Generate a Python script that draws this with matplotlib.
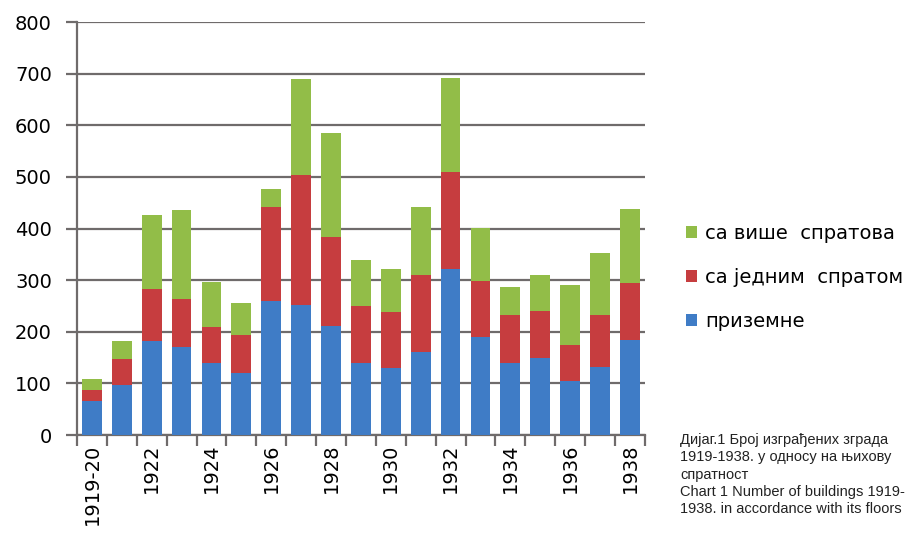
import matplotlib.pyplot as plt
import numpy as np

# years on the x axis
years = ['1919-20', '1921', '1922', '1923', '1924', '1925', '1926', '1927', '1928',
         '1929', '1930', '1931', '1932', '1933', '1934', '1935', '1936', '1937', '1938']
# ground floor only
prizemne = [66, 97, 182, 170, 139, 121, 260, 252, 211,
            139, 129, 160, 322, 190, 139, 149, 105, 132, 185]
# one floor
jedan_sprat = [22, 50, 101, 94, 70, 73, 182, 252, 173,
               110, 109, 150, 188, 109, 94, 91, 69, 101, 110]
# more floors
vise_spratova = [21, 35, 143, 171, 88, 62, 34, 186, 201,
                 91, 83, 131, 181, 103, 54, 70, 117, 119, 142]

fig = plt.figure(figsize=(9.13, 5.38), dpi=100)
ax = fig.add_axes([0.0843, 0.1914, 0.622, 0.7676])

x = np.arange(len(years))
w = 0.66
c_blue, c_red, c_green = '#3f7cc6', '#c63d3f', '#92bd48'
b1 = ax.bar(x, prizemne, w, color=c_blue, zorder=3)
b2 = ax.bar(x, jedan_sprat, w, bottom=prizemne, color=c_red, zorder=3)
bot = np.array(prizemne) + np.array(jedan_sprat)
b3 = ax.bar(x, vise_spratova, w, bottom=bot, color=c_green, zorder=3)

ax.set_ylim(0, 800)
ax.set_xlim(-0.5, len(years) - 0.5)
ax.set_yticks(range(0, 801, 100))
ax.yaxis.grid(True, color='#6f6b6b', lw=1.6, zorder=0)
for s in ['top', 'right']:
    ax.spines[s].set_visible(False)
for s in ['left', 'bottom']:
    ax.spines[s].set_color('#6f6b6b')
    ax.spines[s].set_linewidth(1.6)
ax.tick_params(axis='y', length=8, width=1.6, color='#6f6b6b', labelsize=14, pad=10)

# category ticks sit between bars, labels on every other bar
ax.set_xticks(np.arange(-0.5, len(years), 1.0), minor=False)
ax.set_xticklabels([])
ax.tick_params(axis='x', length=8, width=1.6, color='#6f6b6b')
ax.set_xticks(x[::2], minor=True)
ax.set_xticklabels(years[::2], minor=True, rotation=90, fontsize=14)
ax.tick_params(axis='x', which='minor', length=0, pad=6)

leg = fig.legend([b3, b2, b1], ['са више  спратова', 'са једним  спратом', 'приземне'],
                 loc='upper left', bbox_to_anchor=(0.732, 0.617), frameon=False,
                 fontsize=14, handlelength=0.6, handleheight=0.6, handletextpad=0.4,
                 labelspacing=1.3)

caption = ('Дијаг.1 Број изграђених зграда\n1919-1938. у односу на њихову\nспратност\n'
           'Chart 1 Number of buildings 1919-\n1938. in accordance with its floors')
fig.text(0.745, 0.195, caption, va='top', ha='left', fontsize=10.5, linespacing=1.3,
         family=['Liberation Sans', 'DejaVu Sans'], color='#222222')

fig.savefig('out.png', dpi=100)
